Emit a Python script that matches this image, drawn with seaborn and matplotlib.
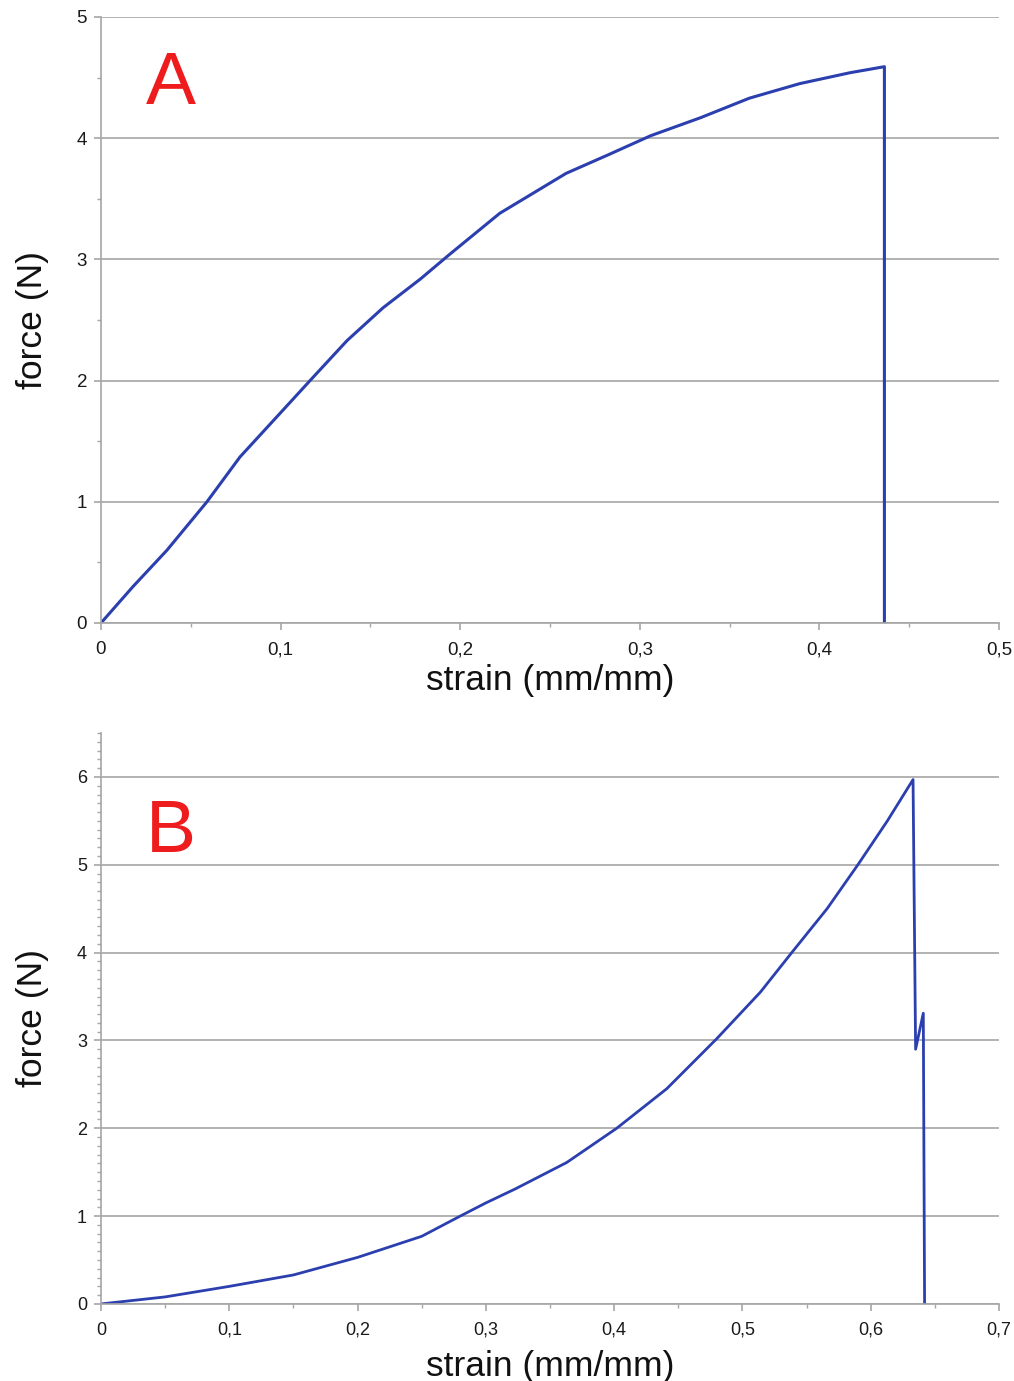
import numpy as np
import pandas as pd
import matplotlib.pyplot as plt
import seaborn as sns
from matplotlib.ticker import MultipleLocator, FuncFormatter

# Panel A: strain / force
strain_a = [0, 0.0178, 0.0367, 0.059, 0.0774, 0.0997, 0.1164, 0.137, 0.157, 0.178,
            0.194, 0.222, 0.259, 0.282, 0.306, 0.334, 0.361, 0.389, 0.417, 0.4362, 0.4362]
force_a = [0, 0.30, 0.60, 1.0, 1.37, 1.73, 2.0, 2.33, 2.6, 2.84,
           3.04, 3.38, 3.71, 3.86, 4.02, 4.17, 4.33, 4.45, 4.54, 4.59, 0]

# Panel B
strain_b = [0, 0.05, 0.1, 0.15, 0.2, 0.25, 0.28, 0.3, 0.323, 0.363, 0.402, 0.441,
            0.48, 0.514, 0.539, 0.566, 0.59, 0.613, 0.633, 0.635, 0.641, 0.642]
force_b = [0, 0.08, 0.2, 0.33, 0.53, 0.77, 1.0, 1.15, 1.31, 1.61, 2.0, 2.45,
           3.02, 3.55, 4.01, 4.5, 5.0, 5.5, 5.97, 2.9, 3.31, 0]

line_color = '#2c3fae'
grid_color = '#a6a6a6'

sns.set_style('white')
plt.rcParams['font.family'] = ['Liberation Sans', 'DejaVu Sans']

fig = plt.figure(figsize=(10.14, 13.81), dpi=100)
ax_a = fig.add_axes([0.0996, 0.5489, 0.8856, 0.4388])
ax_b = fig.add_axes([0.0996, 0.0558, 0.8856, 0.4134])

comma = FuncFormatter(lambda v, p: ('%g' % round(v, 3)).replace('.', ','))


def style_axis(ax, xmax, ymax, yminor, letter, letter_y, xpad, ticksize):
    ax.set_xlim(0, xmax)
    ax.set_ylim(0, ymax)
    ax.xaxis.set_major_locator(MultipleLocator(0.1))
    ax.xaxis.set_minor_locator(MultipleLocator(0.05))
    ax.yaxis.set_major_locator(MultipleLocator(1))
    ax.yaxis.set_minor_locator(MultipleLocator(yminor))
    ax.xaxis.set_major_formatter(comma)
    ax.yaxis.set_major_formatter(comma)
    ax.yaxis.grid(True, color=grid_color, linewidth=1.2)
    ax.set_axisbelow(True)
    for s in ['top', 'right']:
        ax.spines[s].set_visible(False)
    for s in ['left', 'bottom']:
        ax.spines[s].set_color(grid_color)
        ax.spines[s].set_linewidth(1.2)
    ax.tick_params(axis='both', which='both', bottom=True, left=True)
    ax.tick_params(axis='both', which='major', direction='out', length=5,
                   width=1.2, color=grid_color, labelsize=ticksize,
                   labelcolor='#1a1a1a')
    ax.tick_params(axis='both', which='minor', direction='out', length=3,
                   width=1.0, color=grid_color)
    ax.tick_params(axis='x', which='major', pad=8)
    ax.tick_params(axis='y', which='major', pad=5)
    ax.set_xlabel('strain (mm/mm)', fontsize=25.5, labelpad=xpad, color='#111111')
    ax.set_ylabel('force (N)', fontsize=25.5, labelpad=20, color='#111111')
    ax.text(0.078, letter_y, letter, transform=ax.transAxes, fontsize=54,
            color='#ee1c1c', ha='center', va='center')


df_a = pd.DataFrame({'strain': strain_a, 'force': force_a})
df_b = pd.DataFrame({'strain': strain_b, 'force': force_b})

sns.lineplot(data=df_a, x='strain', y='force', sort=False, estimator=None,
             color=line_color, linewidth=2.2, ax=ax_a)
sns.lineplot(data=df_b, x='strain', y='force', sort=False, estimator=None,
             color=line_color, linewidth=2, ax=ax_b)

style_axis(ax_a, 0.5, 5, 0.5, 'A', 0.888, 4, 13.5)
style_axis(ax_b, 0.7, 6.5, 0.1, 'B', 0.826, 8, 13)

fig.savefig('out.png', dpi=100, facecolor='white')
